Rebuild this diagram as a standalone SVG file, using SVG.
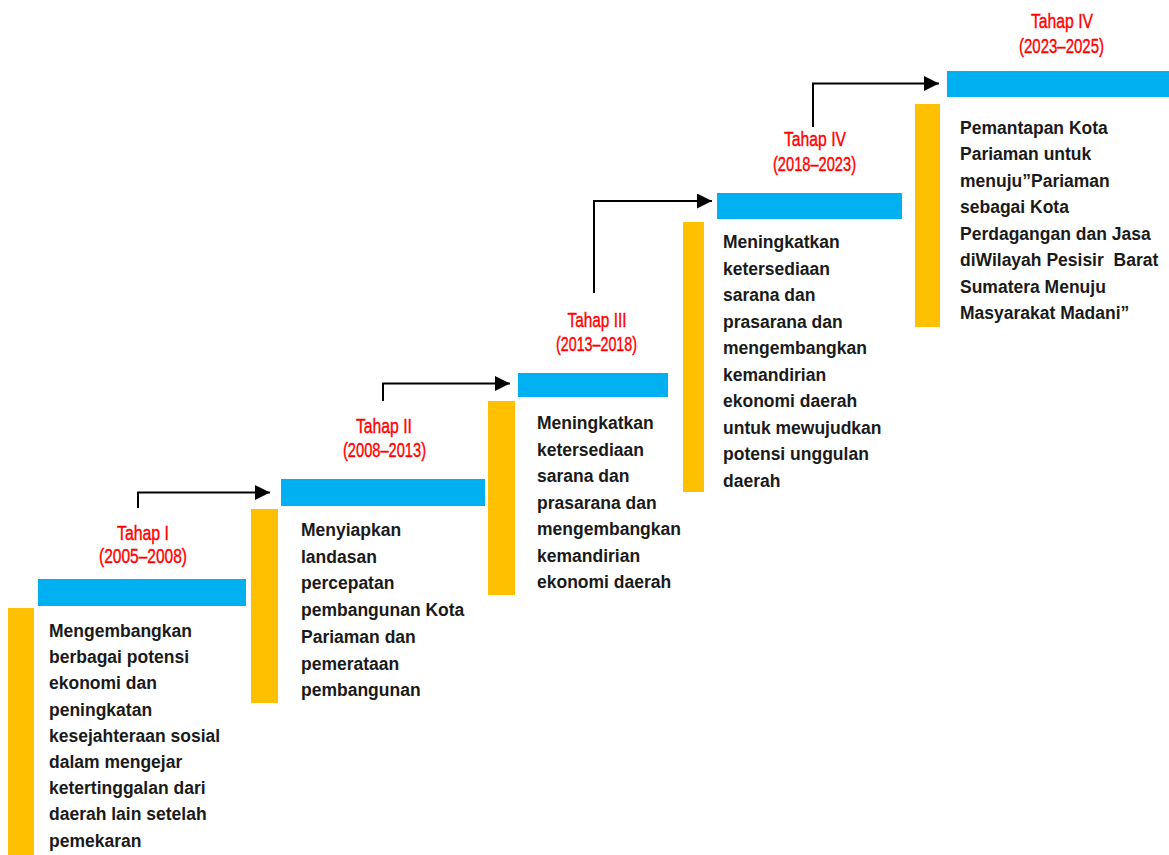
<svg xmlns="http://www.w3.org/2000/svg" width="1169" height="855" viewBox="0 0 1169 855">
<style>
.blue{fill:#00B0F0}
.yel{fill:#FFC000}
.lbl{font-family:"Liberation Sans",Arial,sans-serif;font-size:20.5px;fill:#FF0000;stroke:#FF0000;stroke-width:0.4;text-anchor:middle}
.body{font-family:"Liberation Sans",Arial,sans-serif;font-size:17.5px;font-weight:bold;fill:#1a1a1a;white-space:pre}
.conn{fill:none;stroke:#000;stroke-width:2}
</style>
<defs>
<marker id="ah" markerUnits="userSpaceOnUse" markerWidth="16" markerHeight="16" refX="15" refY="7.5" orient="auto">
<path d="M0,0 L15,7.5 L0,15 z" fill="#000"/>
</marker>
</defs>
<rect width="1169" height="855" fill="#fff"/>

<g id="connectors">
<path class="conn" d="M138,508 V492.5 H270" marker-end="url(#ah)"/>
<path class="conn" d="M383,401 V383.5 H510" marker-end="url(#ah)"/>
<path class="conn" d="M594,293 V201 H712" marker-end="url(#ah)"/>
<path class="conn" d="M813,127 V83.5 H939" marker-end="url(#ah)"/>
</g>

<g id="tahap1">
<rect class="blue" x="38" y="579" width="208" height="27"/>
<rect class="yel" x="8" y="608" width="26" height="247"/>
<text class="lbl" x="143" y="540" textLength="52" lengthAdjust="spacingAndGlyphs">Tahap I</text>
<text class="lbl" x="143" y="563" textLength="88" lengthAdjust="spacingAndGlyphs">(2005–2008)</text>
<text class="body">
<tspan x="49" y="637">Mengembangkan</tspan>
<tspan x="49" y="663.2">berbagai potensi</tspan>
<tspan x="49" y="689.4">ekonomi dan</tspan>
<tspan x="49" y="715.6">peningkatan</tspan>
<tspan x="49" y="741.8">kesejahteraan sosial</tspan>
<tspan x="49" y="768">dalam mengejar</tspan>
<tspan x="49" y="794.2">ketertinggalan dari</tspan>
<tspan x="49" y="820.4">daerah lain setelah</tspan>
<tspan x="49" y="846.6">pemekaran</tspan>
</text>
</g>

<g id="tahap2">
<rect class="blue" x="281" y="479" width="204" height="27"/>
<rect class="yel" x="251" y="509" width="27" height="194"/>
<text class="lbl" x="384" y="433" textLength="56" lengthAdjust="spacingAndGlyphs">Tahap II</text>
<text class="lbl" x="384.5" y="457" textLength="83" lengthAdjust="spacingAndGlyphs">(2008–2013)</text>
<text class="body">
<tspan x="301" y="536">Menyiapkan</tspan>
<tspan x="301" y="562.7">landasan</tspan>
<tspan x="301" y="589.4">percepatan</tspan>
<tspan x="301" y="616.1">pembangunan Kota</tspan>
<tspan x="301" y="642.8">Pariaman dan</tspan>
<tspan x="301" y="669.5">pemerataan</tspan>
<tspan x="301" y="696.2">pembangunan</tspan>
</text>
</g>

<g id="tahap3">
<rect class="blue" x="518" y="373" width="150" height="24"/>
<rect class="yel" x="488" y="401" width="27" height="194"/>
<text class="lbl" x="597" y="327" textLength="59" lengthAdjust="spacingAndGlyphs">Tahap III</text>
<text class="lbl" x="596.5" y="350.5" textLength="81" lengthAdjust="spacingAndGlyphs">(2013–2018)</text>
<text class="body">
<tspan x="537" y="429">Meningkatkan</tspan>
<tspan x="537" y="455.5">ketersediaan</tspan>
<tspan x="537" y="482">sarana dan</tspan>
<tspan x="537" y="508.5">prasarana dan</tspan>
<tspan x="537" y="535">mengembangkan</tspan>
<tspan x="537" y="561.5">kemandirian</tspan>
<tspan x="537" y="588">ekonomi daerah</tspan>
</text>
</g>

<g id="tahap4">
<rect class="blue" x="717" y="193" width="185" height="26"/>
<rect class="yel" x="683" y="222" width="21" height="270"/>
<text class="lbl" x="815" y="146" textLength="62" lengthAdjust="spacingAndGlyphs">Tahap IV</text>
<text class="lbl" x="814.5" y="171" textLength="83" lengthAdjust="spacingAndGlyphs">(2018–2023)</text>
<text class="body">
<tspan x="723" y="248">Meningkatkan</tspan>
<tspan x="723" y="274.5">ketersediaan</tspan>
<tspan x="723" y="301">sarana dan</tspan>
<tspan x="723" y="327.5">prasarana dan</tspan>
<tspan x="723" y="354">mengembangkan</tspan>
<tspan x="723" y="380.5">kemandirian</tspan>
<tspan x="723" y="407">ekonomi daerah</tspan>
<tspan x="723" y="433.5">untuk mewujudkan</tspan>
<tspan x="723" y="460">potensi unggulan</tspan>
<tspan x="723" y="486.5">daerah</tspan>
</text>
</g>

<g id="tahap5">
<rect class="blue" x="947" y="71" width="222" height="26"/>
<rect class="yel" x="915" y="104" width="25" height="223"/>
<text class="lbl" x="1062" y="28" textLength="62" lengthAdjust="spacingAndGlyphs">Tahap IV</text>
<text class="lbl" x="1061.5" y="53" textLength="85" lengthAdjust="spacingAndGlyphs">(2023–2025)</text>
<text class="body">
<tspan x="960" y="133.5">Pemantapan Kota</tspan>
<tspan x="960" y="160">Pariaman untuk</tspan>
<tspan x="960" y="186.5">menuju”Pariaman</tspan>
<tspan x="960" y="213">sebagai Kota</tspan>
<tspan x="960" y="239.5">Perdagangan dan Jasa</tspan>
<tspan x="960" y="266">diWilayah Pesisir  Barat</tspan>
<tspan x="960" y="292.5">Sumatera Menuju</tspan>
<tspan x="960" y="319">Masyarakat Madani”</tspan>
</text>
</g>
</svg>
